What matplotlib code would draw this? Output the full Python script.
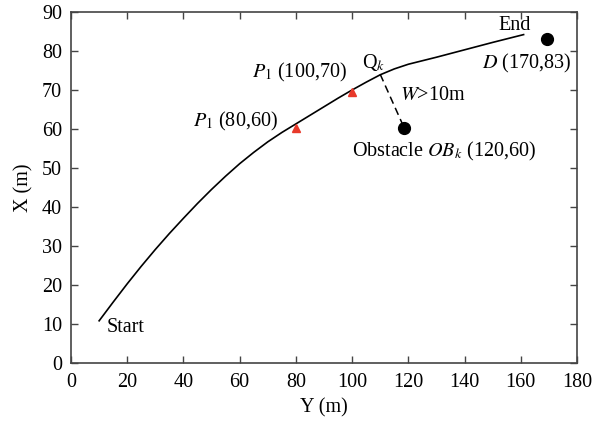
import matplotlib
matplotlib.use("Agg")
import matplotlib.pyplot as plt

# path
path_y = [10, 15, 20, 25, 30, 35, 40, 45, 50, 55, 60, 65, 70, 75, 80, 85, 90, 95, 100,
          105, 110, 115, 120, 130, 140, 150, 161]
path_x = [10.8, 15.6, 20.3, 24.8, 29.1, 33.2, 37.1, 40.9, 44.5, 47.9, 51.1, 54.0, 56.7,
          59.1, 61.3, 63.5, 65.7, 67.9, 70.0, 72.0, 73.9, 75.4, 76.6, 78.4, 80.3, 82.2, 84.2]

waypoints_y = [80, 100]
waypoints_x = [60.2, 69.4]

obstacle = (118.5, 60.3)
goal = (169.5, 83)
q_point = (110, 74)

plt.rcParams['font.family'] = ['Liberation Serif', 'DejaVu Serif']
plt.rcParams['mathtext.fontset'] = 'stix'
plt.rcParams['font.size'] = 14.5

fig = plt.figure(figsize=(6.07, 4.22), dpi=100)
ax = fig.add_axes([0.117, 0.140, 0.8336, 0.8316])

ax.plot(path_y, path_x, color='black', lw=1.2)
ax.plot(waypoints_y, waypoints_x, marker='^', ls='none', color='#e8392a', ms=5.5)
ax.plot([obstacle[0], goal[0]], [obstacle[1], goal[1]], 'o', color='black', ms=8.5)
ax.plot([q_point[0], obstacle[0]], [q_point[1], obstacle[1]], ls=(0, (5, 3)), color='black', lw=1.1)

ax.text(73.6, 62, r'$P_{\mathit{1}}$ (80,60)', ha='right', va='center')
ax.text(64.3, 74.6, r'$P_{\mathit{1}}$ (100,70)', ha='left', va='center')
ax.text(103.4, 77, r'Q$_k$', ha='left', va='center')
ax.text(117, 68.5, r'$W$>10m', ha='left', va='center')
ax.text(99.9, 54.2, r'Obstacle $OB_k$ (120,60)', ha='left', va='center')
ax.text(151.9, 86.5, 'End', ha='left', va='center')
ax.text(178.1, 76.8, r'$D$ (170,83)', ha='right', va='center')
ax.text(12.5, 9, 'Start', ha='left', va='center')

ax.set_xlim(0, 180)
ax.set_ylim(0, 90)
ax.set_xticks(range(0, 181, 20))
ax.set_yticks(range(0, 91, 10))
ax.tick_params(direction='in', top=True, right=True, length=5, width=1, color='#444444')
ax.tick_params(axis='x', pad=7)
ax.tick_params(axis='y', pad=6.5)
for s in ax.spines.values():
    s.set_color('#444444')
    s.set_linewidth(1.2)

ax.set_xlabel('Y (m)', labelpad=5)
ax.set_ylabel('X (m)', labelpad=6)

fig.savefig('out.png', dpi=100)
